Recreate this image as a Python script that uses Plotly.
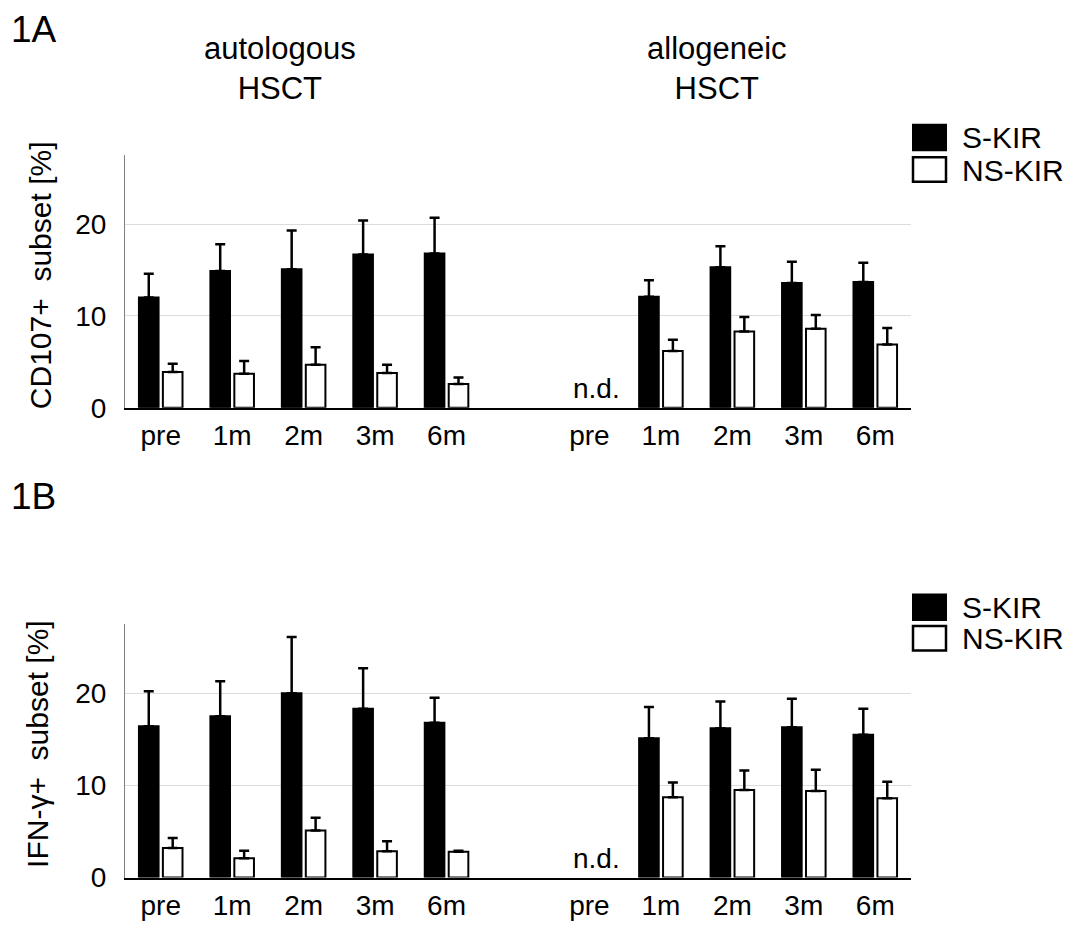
import plotly.graph_objects as go

# ---------------- data ----------------
timepoints = ["pre", "1m", "2m", "3m", "6m"]
groups = ["autologous<br>HSCT", "allogeneic<br>HSCT"]
series = ["S-KIR", "NS-KIR"]

# Panel 1A: CD107+ subset [%]
cd107_auto_s = [12.0, 14.9, 15.1, 16.7, 16.8]
cd107_auto_s_err = [2.6, 2.9, 4.2, 3.7, 3.9]
cd107_auto_ns = [3.9, 3.7, 4.7, 3.8, 2.6]
cd107_auto_ns_err = [0.9, 1.4, 1.9, 0.9, 0.7]
cd107_allo_s = [None, 12.1, 15.3, 13.6, 13.7]
cd107_allo_s_err = [0, 1.8, 2.3, 2.3, 2.1]
cd107_allo_ns = [None, 6.2, 8.3, 8.6, 6.9]
cd107_allo_ns_err = [0, 1.2, 1.6, 1.5, 1.8]

# Panel 1B: IFN-gamma+ subset [%]
ifn_auto_s = [16.4, 17.5, 20.0, 18.3, 16.8]
ifn_auto_s_err = [3.8, 3.8, 6.1, 4.4, 2.7]
ifn_auto_ns = [3.2, 2.1, 5.1, 2.85, 2.8]
ifn_auto_ns_err = [1.1, 0.8, 1.4, 1.1, 0.1]
ifn_allo_s = [None, 15.1, 16.2, 16.3, 15.5]
ifn_allo_s_err = [0, 3.4, 2.9, 3.1, 2.8]
ifn_allo_ns = [None, 8.7, 9.5, 9.4, 8.6]
ifn_allo_ns_err = [0, 1.6, 2.1, 2.3, 1.8]

yticks = [0, 10, 20]

# x positions: auto group at 0..4, gap, allo group at 6..10
xpos = list(range(5)) + [i + 6 for i in range(5)]
xlabels = timepoints + timepoints

W, H = 1074, 926
FONT = "Arial, Liberation Sans, sans-serif"


def px(x):
    return x / W


def py(y):
    return 1 - y / H


fig = go.Figure()

panels = [
    dict(yaxis="y", xaxis="x",
         s=cd107_auto_s + cd107_allo_s, se=cd107_auto_s_err + cd107_allo_s_err,
         ns=cd107_auto_ns + cd107_allo_ns, nse=cd107_auto_ns_err + cd107_allo_ns_err),
    dict(yaxis="y2", xaxis="x2",
         s=ifn_auto_s + ifn_allo_s, se=ifn_auto_s_err + ifn_allo_s_err,
         ns=ifn_auto_ns + ifn_allo_ns, nse=ifn_auto_ns_err + ifn_allo_ns_err),
]

for p in panels:
    fig.add_trace(go.Bar(
        x=xpos, y=p["s"], name=series[0], xaxis=p["xaxis"], yaxis=p["yaxis"],
        marker=dict(color="black", line=dict(color="black", width=2)),
        error_y=dict(type="data", symmetric=False, array=p["se"],
                     arrayminus=[0] * len(p["se"]), color="black",
                     thickness=2.5, width=5),
        offsetgroup="s", showlegend=False,
    ))
    fig.add_trace(go.Bar(
        x=xpos, y=p["ns"], name=series[1], xaxis=p["xaxis"], yaxis=p["yaxis"],
        marker=dict(color="white", line=dict(color="black", width=2)),
        error_y=dict(type="data", symmetric=False, array=p["nse"],
                     arrayminus=[0] * len(p["nse"]), color="black",
                     thickness=2.5, width=5),
        offsetgroup="ns", showlegend=False,
    ))

xdom = [px(125), px(911)]
xaxis_common = dict(
    domain=xdom, range=[-0.5, 10.5], tickmode="array", tickvals=xpos,
    ticktext=xlabels, showline=True, linecolor="black", linewidth=1.5,
    showgrid=False, zeroline=False, ticks="outside", ticklen=2,
    tickcolor="rgba(0,0,0,0)", tickfont=dict(size=28, color="black", family=FONT),
)
yaxis_common = dict(
    range=[0, 27.5], tickmode="array", tickvals=yticks,
    showline=True, linecolor="#808080", linewidth=1.2,
    showgrid=True, gridcolor="#dcdcdc", gridwidth=1.2, zeroline=False,
    ticks="outside", ticklen=12, tickcolor="rgba(0,0,0,0)",
    tickfont=dict(size=28, color="black", family=FONT),
)

fig.update_layout(
    width=W, height=H,
    margin=dict(l=0, r=0, t=0, b=0),
    paper_bgcolor="white", plot_bgcolor="white",
    barmode="group", bargap=0.33, bargroupgap=0.18,
    font=dict(family=FONT, color="black"),
    xaxis=dict(anchor="y", **xaxis_common),
    xaxis2=dict(anchor="y2", **xaxis_common),
    yaxis=dict(anchor="x", domain=[py(415), py(158)], **yaxis_common),
    yaxis2=dict(anchor="x2", domain=[py(893), py(635)], **yaxis_common),
)

ann = []
# panel letters
ann.append(dict(text="1A", x=px(9), y=py(30), xref="paper", yref="paper",
                xanchor="left", yanchor="middle", showarrow=False,
                font=dict(size=37, family=FONT, color="black")))
ann.append(dict(text="1B", x=px(9), y=py(505), xref="paper", yref="paper",
                xanchor="left", yanchor="middle", showarrow=False,
                font=dict(size=37, family=FONT, color="black")))
# group titles
ann.append(dict(text=groups[0], x=px(280), y=py(70), xref="paper", yref="paper",
                xanchor="center", yanchor="middle", showarrow=False,
                font=dict(size=31, family=FONT, color="black")))
ann.append(dict(text=groups[1], x=px(717), y=py(70), xref="paper", yref="paper",
                xanchor="center", yanchor="middle", showarrow=False,
                font=dict(size=31, family=FONT, color="black")))
# y axis titles
ann.append(dict(text="CD107+  subset [%]", x=px(40), y=py(280), xref="paper",
                yref="paper", xanchor="center", yanchor="middle", textangle=-90,
                showarrow=False, font=dict(size=30, family=FONT, color="black")))
ann.append(dict(text="IFN-γ+  subset [%]", x=px(38), y=py(757), xref="paper",
                yref="paper", xanchor="center", yanchor="middle", textangle=-90,
                showarrow=False, font=dict(size=30, family=FONT, color="black")))
# n.d.
for xr, yr in [("x", "y"), ("x2", "y2")]:
    ann.append(dict(text="n.d.", x=6, y=0, xref=xr, yref=yr, xanchor="center",
                    yanchor="bottom", yshift=2, xshift=7, showarrow=False,
                    font=dict(size=28, family=FONT, color="black")))

shapes = []
# custom legends (big squares)
for top_s, top_ns in [(127, 160), (605, 637)]:
    shapes.append(dict(type="rect", xref="paper", yref="paper",
                       x0=px(913), x1=px(946), y0=py(top_s + 26), y1=py(top_s),
                       fillcolor="black", line=dict(color="black", width=2)))
    shapes.append(dict(type="rect", xref="paper", yref="paper",
                       x0=px(913), x1=px(946), y0=py(top_ns + 25), y1=py(top_ns),
                       fillcolor="white", line=dict(color="black", width=2.5)))
    ann.append(dict(text=series[0], x=px(960), y=py(top_s + 13), xref="paper",
                    yref="paper", xanchor="left", yanchor="middle", showarrow=False,
                    font=dict(size=30, family=FONT, color="black")))
    ann.append(dict(text=series[1], x=px(960), y=py(top_ns + 13), xref="paper",
                    yref="paper", xanchor="left", yanchor="middle", showarrow=False,
                    font=dict(size=30, family=FONT, color="black")))

fig.update_layout(annotations=ann, shapes=shapes)

fig.write_html(
    "out.html",
    post_script="document.body.style.margin='0';document.body.style.overflow='hidden';",
)
